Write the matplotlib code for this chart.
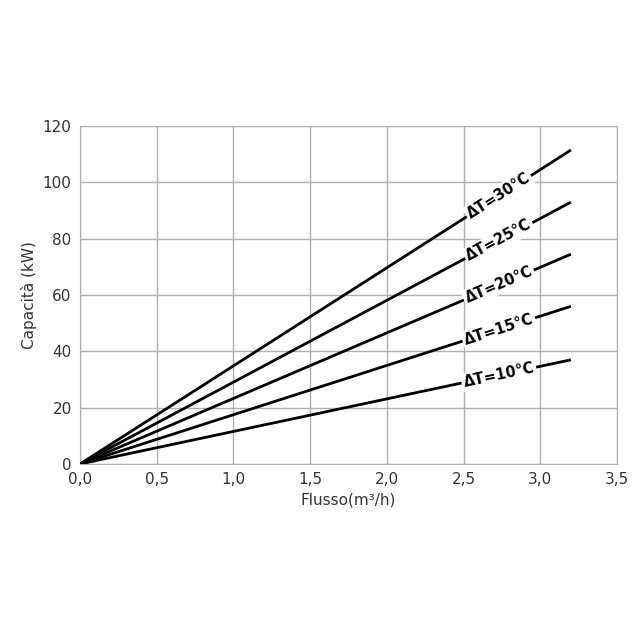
import matplotlib
matplotlib.use("Agg")
import matplotlib.pyplot as plt
import numpy as np

dts = ["ΔT=10°C", "ΔT=15°C", "ΔT=20°C", "ΔT=25°C", "ΔT=30°C"]
flow_end = [3.2, 3.2, 3.2, 3.2, 3.2]
cap_end = [37, 56, 74.5, 93, 111.5]
label_x = 2.73

fig = plt.figure(figsize=(6.4, 6.4), dpi=100)
ax = fig.add_axes([0.125, 0.275, 0.839, 0.528])
for lab, xe, ye in zip(dts, flow_end, cap_end):
    ax.plot([0, xe], [0, ye], color="black", lw=2, solid_capstyle="butt", zorder=3)
    yl = ye / xe * label_x
    ax.text(label_x, yl, lab, rotation=np.degrees(np.arctan2(ye, xe)), rotation_mode="anchor",
            transform_rotates_text=True, ha="center", va="center", fontsize=10.5,
            fontweight="bold", zorder=4,
            bbox=dict(facecolor="white", edgecolor="none", pad=1.5))
ax.set_xlim(0, 3.5)
ax.set_ylim(0, 120)
ax.set_xticks(np.arange(0, 3.51, 0.5))
ax.set_xticklabels([f"{v:.1f}".replace(".", ",") for v in np.arange(0, 3.51, 0.5)])
ax.set_yticks(range(0, 121, 20))
ax.grid(True, color="#b0b0b0", lw=1)
for s in ax.spines.values():
    s.set_color("#b0b0b0")
ax.tick_params(length=0, labelsize=11, colors="#333333", pad=6)
ax.set_xlabel("Flusso(m³/h)", fontsize=11, color="#333333")
ax.set_ylabel("Capacità (kW)", fontsize=11, color="#333333")
fig.savefig("out.png")
